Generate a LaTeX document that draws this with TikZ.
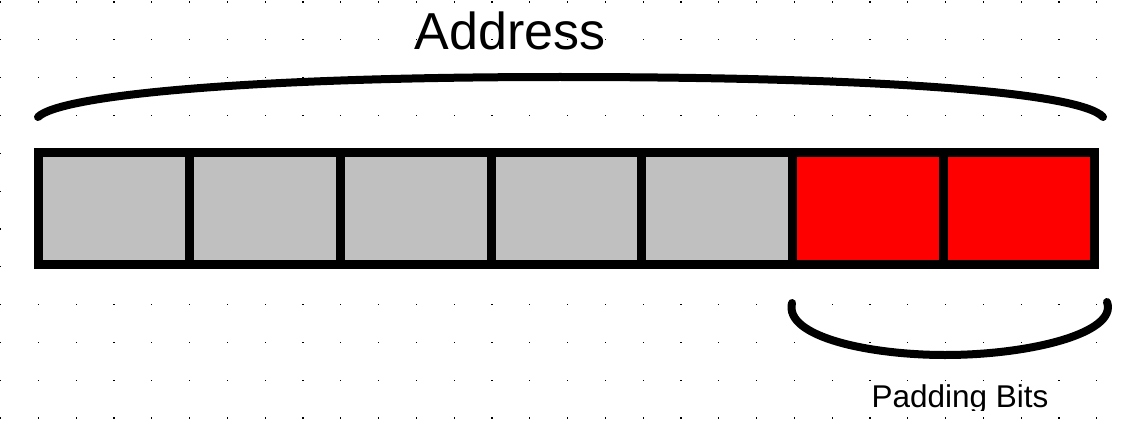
\documentclass[tikz,border=0pt]{standalone}
\usepackage{fontspec}
\setmainfont{Liberation Sans}
\definecolor{cellgray}{HTML}{C0C0C0}
\definecolor{cellred}{HTML}{FF0000}
\begin{document}
\begin{tikzpicture}[x=0.75pt,y=-0.75pt,
  cell/.style={draw=black,line width=6.75pt,rectangle,inner sep=0pt,outer sep=0pt,
    minimum width=113.145pt,minimum height=84pt},
  brace/.style={draw=black,line width=6pt,line cap=round},
  griddot/.style={fill=black}]
\useasboundingbox (0,0) rectangle (1131,428);
\fill[white] (0,0) rectangle (1131,428);
% dotted grid
\foreach \i in {0,...,29}{
  \foreach \j in {0,...,11}{
    \fill[griddot] ({\i*37.8},{1.5+\j*37.8}) rectangle ++(1.2,1.2);
  }
}
% cells
\foreach \k/\c in {1/cellgray,2/cellgray,3/cellgray,4/cellgray,5/cellgray,6/cellred,7/cellred}{
  \node[cell,fill=\c] (c\k) at ({38.5+(\k-0.5)*150.857},208.5) {};
}
% top brace
\coordinate (tl) at (38,117);
\coordinate (tm) at (560,77);
\coordinate (tr) at (1103,117);
\draw[brace] (tl) .. controls (60,95) and (250,77) .. (tm)
  .. controls (880,77) and (1080,92) .. (tr);
% bottom brace
\coordinate (bl) at (792,303);
\coordinate (bm) at (945,355);
\coordinate (br) at (1107,302);
\draw[brace] (bl) .. controls (784,337) and (870,355) .. (bm)
  .. controls (1030,355) and (1118,333) .. (br);
% labels
\node[anchor=base,inner sep=0pt,font=\fontsize{39}{47}\selectfont] (addr) at (510,50) {Address};
\begin{scope}
\clip (0,0) rectangle (1131,410);
\node[anchor=base,inner sep=0pt,font=\fontsize{23.6}{28}\selectfont] (pad) at (960,407) {Padding Bits};
\end{scope}
\end{tikzpicture}
\end{document}
